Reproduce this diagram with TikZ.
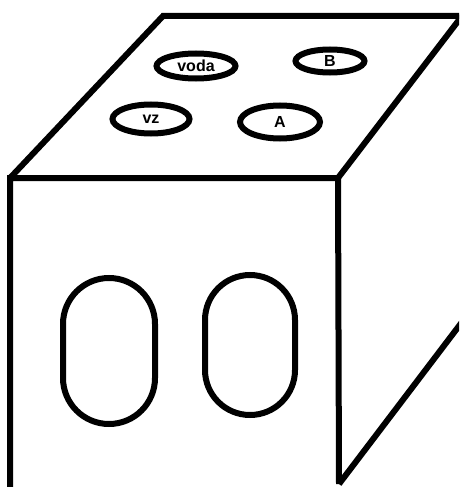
\documentclass[tikz,border=0pt]{standalone}
\usepackage{fontspec}
\setmainfont{Liberation Sans}
\usetikzlibrary{shapes.geometric}
\begin{document}
\begin{tikzpicture}[x=1pt,y=-1pt,
  edge/.style={line width=6pt,line join=miter,line cap=butt},
  hole/.style={ellipse,draw,line width=6pt,inner sep=0pt,font=\fontsize{16}{18}\selectfont\bfseries},
  port/.style={rectangle,draw,line width=6pt,inner sep=0pt}]
\useasboundingbox (0,0) rectangle (459,487);
\clip (0,0) rectangle (459,487);
% cube corners
\coordinate (ftl) at (10,178);
\coordinate (ftr) at (338,178);
\coordinate (fbl) at (10,495);
\coordinate (fbr) at (339,484);
\coordinate (btl) at (163,16);
\coordinate (btr) at (462,16);
\coordinate (bout) at (462,322);
% edges of the box
\draw[edge] (fbl) -- (ftl) -- (ftr) -- (fbr);
\draw[edge] (ftl) -- (btl) -- (btr);
\draw[edge] (ftr) -- (btr);
\draw[edge] (fbr) -- (bout);
% openings on the top face
\node[hole,minimum width=79pt,minimum height=25pt] (voda) at (196,66) {voda};
\node[hole,minimum width=69pt,minimum height=23pt] (b) at (330,61) {B};
\node[hole,minimum width=77pt,minimum height=29pt] (vz) at (151,119) {vz};
\node[hole,minimum width=80pt,minimum height=33pt] (a) at (280,122) {A};
% openings on the front face
\node[port,minimum width=92pt,minimum height=146pt,rounded corners=46pt] (left) at (109,351) {};
\node[port,minimum width=90pt,minimum height=140pt,rounded corners=45pt] (right) at (250,345) {};
\end{tikzpicture}
\end{document}
